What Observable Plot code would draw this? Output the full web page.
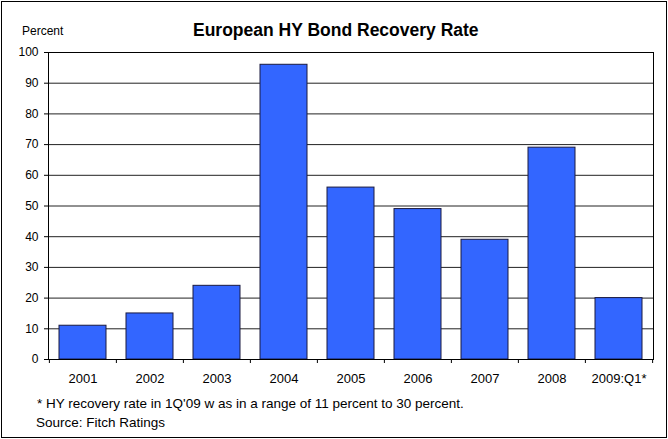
<!DOCTYPE html>
<html>
<head>
<meta charset="utf-8">
<script src="https://cdn.jsdelivr.net/npm/d3@7"></script>
<script src="https://cdn.jsdelivr.net/npm/@observablehq/plot@0.6"></script>
<style>
  html, body { margin: 0; padding: 0; background: #fff; }
  #wrap { position: relative; width: 668px; height: 439px; overflow: hidden; font-family: "Liberation Sans", Arial, sans-serif; color: #000; }
  #border { position: absolute; left: 1px; top: 1px; width: 664px; height: 435px; border: 1px solid #000; pointer-events: none; }
  .txt { position: absolute; white-space: nowrap; }
  #title { left: 193px; top: 20px; font-weight: bold; font-size: 17.5px; }
  #unit { left: 22px; top: 24px; font-size: 12px; }
  #note { left: 37px; top: 396px; font-size: 13.5px; }
  #src { left: 36px; top: 415px; font-size: 13.5px; }
  #chart { position: absolute; left: 0; top: 0; }
</style>
</head>
<body>
<div id="wrap">
  <div id="chart"></div>
  <div id="border"></div>
  <div class="txt" id="title"></div>
  <div class="txt" id="unit"></div>
  <div class="txt" id="note"></div>
  <div class="txt" id="src"></div>
</div>
<script>
const titleText = "European HY Bond Recovery Rate";
const unitText = "Percent";
const noteText = "* HY recovery rate in 1Q'09 w as in a range of 11 percent to 30 percent.";
const sourceText = "Source: Fitch Ratings";

const categories = ["2001", "2002", "2003", "2004", "2005", "2006", "2007", "2008", "2009:Q1*"];
const values = [11, 15, 24, 96, 56, 49, 39, 69, 20];
const yTicks = [0, 10, 20, 30, 40, 50, 60, 70, 80, 90, 100];

document.getElementById("title").textContent = titleText;
document.getElementById("unit").textContent = unitText;
document.getElementById("note").textContent = noteText;
document.getElementById("src").textContent = sourceText;

const data = categories.map((c, i) => ({category: c, value: values[i]}));

const W = 668, H = 439, mL = 48, mR = 15, mT = 52, mB = 80;
const step = (W - mL - mR) / categories.length;

const chart = Plot.plot({
  width: W,
  height: H,
  marginTop: mT,
  marginBottom: mB,
  marginLeft: mL,
  marginRight: mR,
  style: {fontFamily: "'Liberation Sans', Arial, sans-serif", fontSize: "12px", background: "transparent", color: "#000", overflow: "visible"},
  x: {domain: categories, paddingInner: 0.3, paddingOuter: 0.15, label: null},
  y: {domain: [0, 100], label: null},
  marks: [
    Plot.gridY(yTicks.filter(d => d > 0), {stroke: "#222", strokeOpacity: 1, strokeWidth: 1}),
    Plot.barY(data, {x: "category", y: "value", fill: "#3366FF", stroke: "#1a1a40", strokeWidth: 1}),
    Plot.frame({stroke: "#000", strokeWidth: 1}),
    Plot.axisY({ticks: yTicks, tickSize: 4, tickPadding: 6, label: null, fontSize: 12}),
    Plot.axisX({tickSize: 0, tickPadding: 14, label: null, fontSize: 13}),
    Plot.ruleX(categories, {x: d => d, y1: 0, y2: 0, insetBottom: -4, dx: -step / 2, stroke: "#000"}),
    Plot.ruleX(categories.slice(-1), {x: d => d, y1: 0, y2: 0, insetBottom: -4, dx: step / 2, stroke: "#000"})
  ]
});
document.getElementById("chart").appendChild(chart);
</script>
</body>
</html>
